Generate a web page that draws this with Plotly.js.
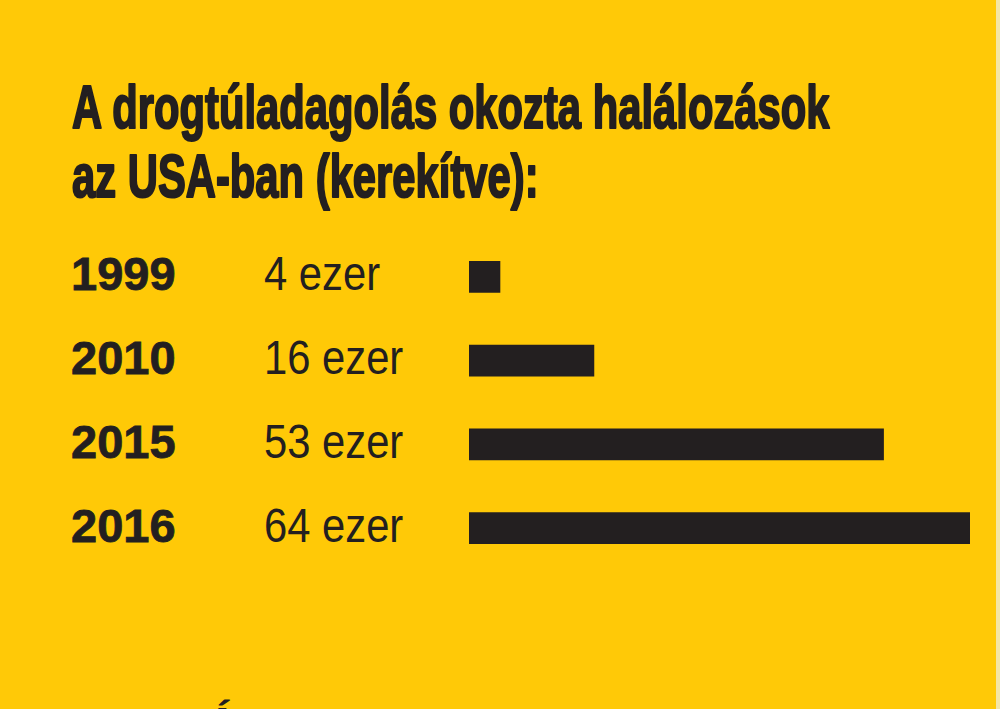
<!DOCTYPE html>
<html><head><meta charset="utf-8">
<script src="https://cdn.plot.ly/plotly-3.0.1.min.js"></script>
<style>html,body{margin:0;padding:0;background:#FFC907;}</style>
</head><body>
<div id="chart" style="width:1000px;height:709px;"></div>
<script>
// ---- data ----
const years = ['1999', '2010', '2015', '2016'];
const deaths = [4, 16, 53, 64];          // thousand deaths (rounded)
const unit = 'ezer';
const titleLines = ['A drogtúladagolás okozta halálozások', 'az USA-ban (kerekítve):'];
const footerText = 'Á';

// ---- style ----
const BG = '#FFC907';
const INK = '#231F20';

const trace = {
  type: 'bar', orientation: 'h',
  y: years, x: deaths,
  marker: {color: INK, line: {width: 0}},
  hoverinfo: 'none', showlegend: false
};

const annotations = [];
years.forEach((yr, i) => {
  // on a category axis, annotation positions use the category's serial number
  annotations.push({
    xref: 'paper', yref: 'y', x: 0, y: i, xanchor: 'left', yanchor: 'middle',
    xshift: -400, yshift: 3, text: yr, showarrow: false,
    font: {family: 'Liberation Sans, Arial, sans-serif', size: 47, color: INK, weight: 700}
  });
  annotations.push({
    xref: 'paper', yref: 'y', x: 0, y: i, xanchor: 'left', yanchor: 'middle',
    xshift: -207, yshift: 3, text: deaths[i] + ' ' + unit, showarrow: false,
    font: {family: 'Liberation Sans, Arial, sans-serif', size: 48, color: INK}
  });
});
annotations.push({
  xref: 'paper', yref: 'paper', x: 0, y: 0, xanchor: 'left', yanchor: 'top',
  xshift: -265, yshift: -126, text: footerText, showarrow: false,
  font: {family: 'Liberation Sans, Arial, sans-serif', size: 45, color: INK, weight: 700}
});

const hiddenAxis = {showticklabels: false, showgrid: false, zeroline: false, showline: false, ticks: '', fixedrange: true};

const layout = {
  width: 1000, height: 709,
  margin: {l: 469, r: 30, t: 235, b: 139, pad: 0},
  paper_bgcolor: BG, plot_bgcolor: BG,
  title: {
    text: titleLines.join('<br>'),
    xref: 'container', yref: 'container', x: 0.072, xanchor: 'left',
    y: 1 - 128 / 709, yanchor: 'top',
    font: {family: 'Liberation Sans, Arial, sans-serif', size: 62, color: INK, weight: 700}
  },
  xaxis: Object.assign({range: [0, 64]}, hiddenAxis),
  yaxis: Object.assign({type: 'category', categoryorder: 'array', categoryarray: years, range: [3.5, -0.5]}, hiddenAxis),
  bargap: 0.618,
  annotations: annotations,
  shapes: [{
    type: 'rect', xref: 'paper', yref: 'paper',
    x0: (996 - 469) / 501, x1: (1000 - 469) / 501, y0: -139 / 335, y1: 1 + 235 / 335,
    fillcolor: '#F4E6A6', line: {width: 0}, layer: 'below'
  }]
};

function squeezeX(el, s) {
  const bb = el.getBBox();
  const tr = el.getAttribute('transform') || '';
  el.setAttribute('transform', tr + ' translate(' + bb.x + ',0) scale(' + s + ',1) translate(' + (-bb.x) + ',0)');
}

Plotly.newPlot('chart', [trace], layout, {staticPlot: true, displayModeBar: false}).then(gd => {
  // condensed headline type
  const t = gd.querySelector('.gtitle');
  if (t) {
    const lines = t.querySelectorAll('tspan.line');
    if (lines.length > 1) lines[1].setAttribute('dy', '69px');
    t.style.stroke = INK;
    t.style.strokeWidth = '2.2px';
    t.style.strokeLinejoin = 'round';
    const bb = t.getBBox();
    squeezeX(t, 758 / bb.width);
  }
  gd.querySelectorAll('.annotation').forEach(g => {
    const idx = +g.getAttribute('data-index');
    const txt = g.querySelector('text.annotation-text');
    if (!txt || idx >= years.length * 2) return;
    if (idx % 2 === 1) {
      // narrow value labels
      squeezeX(txt, 0.87);
    } else {
      // heavier year labels
      txt.style.stroke = INK;
      txt.style.strokeWidth = '0.8px';
    }
  });
});
</script>
</body></html>
